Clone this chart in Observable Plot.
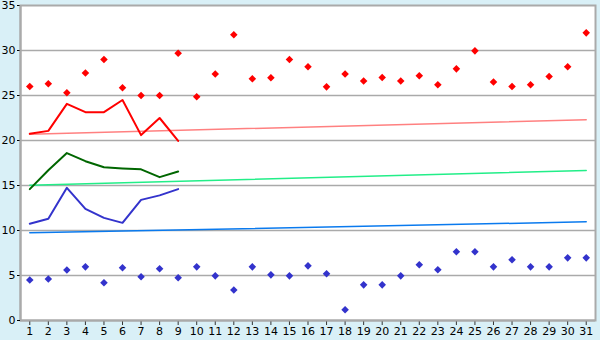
<!DOCTYPE html>
<html><head><meta charset="utf-8">
<script src="https://cdn.jsdelivr.net/npm/d3@7"></script>
<script src="https://cdn.jsdelivr.net/npm/@observablehq/plot@0.6"></script>
<style>html,body{margin:0;padding:0;background:#d9f0f7}</style>
</head><body><div id="chart"></div>
<script>
const days = [1,2,3,4,5,6,7,8,9,10,11,12,13,14,15,16,17,18,19,20,21,22,23,24,25,26,27,28,29,30,31];
const maxTemps = [26.0,26.3,25.3,27.5,29.0,25.85,25.0,25.0,29.7,24.85,27.4,31.75,26.85,26.97,29.0,28.2,25.96,27.4,26.6,27.0,26.6,27.2,26.2,27.96,29.96,26.5,26.0,26.2,27.1,28.2,31.96];
const minTemps = [4.5,4.6,5.6,5.96,4.2,5.85,4.85,5.74,4.74,5.96,4.96,3.4,5.96,5.07,4.96,6.07,5.19,1.19,3.96,3.96,4.96,6.19,5.63,7.63,7.63,5.96,6.74,5.96,5.96,6.96,6.96];
const lineDays = [1,2,3,4,5,6,7,8,9];
const redLine = [20.74,21.07,24.07,23.15,23.15,24.5,20.6,22.5,19.96];
const greenLine = [14.6,16.7,18.6,17.7,17.03,16.9,16.8,15.93,16.55];
const blueLine = [10.74,11.3,14.74,12.4,11.4,10.85,13.4,13.9,14.6];
const trendDays = [1,31];
const redTrend = [20.7,22.3];
const greenTrend = [15.03,16.67];
const blueTrend = [9.74,10.96];

const pts = (xs, ys) => xs.map((x,i)=>({x, y: ys[i]}));

const chart = Plot.plot({
  width: 600, height: 340,
  marginLeft: 20, marginRight: 5, marginTop: 5, marginBottom: 20,
  style: {background: "#d9f0f7", fontFamily: "DejaVu Sans, Verdana, sans-serif", fontSize: "11px", color: "#000"},
  x: {domain: [0.5, 31.5], ticks: days, tickFormat: d => d, tickSize: 5, label: null},
  y: {domain: [0, 35], ticks: [0,5,10,15,20,25,30,35], tickSize: 3, tickPadding: 2, label: null},
  marks: [
    Plot.frame({fill: "white", stroke: "#aaaaaa", strokeWidth: 2}),
    Plot.ruleY([5,10,15,20,25,30], {stroke: "#aaaaaa", strokeWidth: 1.5}),
    Plot.line(pts(trendDays, redTrend), {x:"x", y:"y", stroke:"#ff8080", strokeWidth:1.5}),
    Plot.line(pts(trendDays, greenTrend), {x:"x", y:"y", stroke:"#22ee88", strokeWidth:1.5}),
    Plot.line(pts(trendDays, blueTrend), {x:"x", y:"y", stroke:"#0a7aee", strokeWidth:1.5}),
    Plot.line(pts(lineDays, redLine), {x:"x", y:"y", stroke:"#ff0000", strokeWidth:2}),
    Plot.line(pts(lineDays, greenLine), {x:"x", y:"y", stroke:"#006600", strokeWidth:2}),
    Plot.line(pts(lineDays, blueLine), {x:"x", y:"y", stroke:"#3333cc", strokeWidth:2}),
    Plot.dot(pts(days, maxTemps), {x:"x", y:"y", symbol:"diamond2", r:3.4, fill:"#ff0000"}),
    Plot.dot(pts(days, minTemps), {x:"x", y:"y", symbol:"diamond2", r:3.4, fill:"#3333cc"}),
    Plot.axisX({ticks: days, tickFormat: d => d, tickSize: 5, tickPadding: 2, stroke:"#333"}),
    Plot.axisY({ticks: [0,5,10,15,20,25,30,35], tickSize: 3, tickPadding: 2}),
    Plot.ruleX([0.5], {stroke:"#aaaaaa", strokeWidth:2}),
    Plot.ruleY([0], {stroke:"#aaaaaa", strokeWidth:2})
  ]
});
document.getElementById("chart").appendChild(chart);
</script>
</body></html>
